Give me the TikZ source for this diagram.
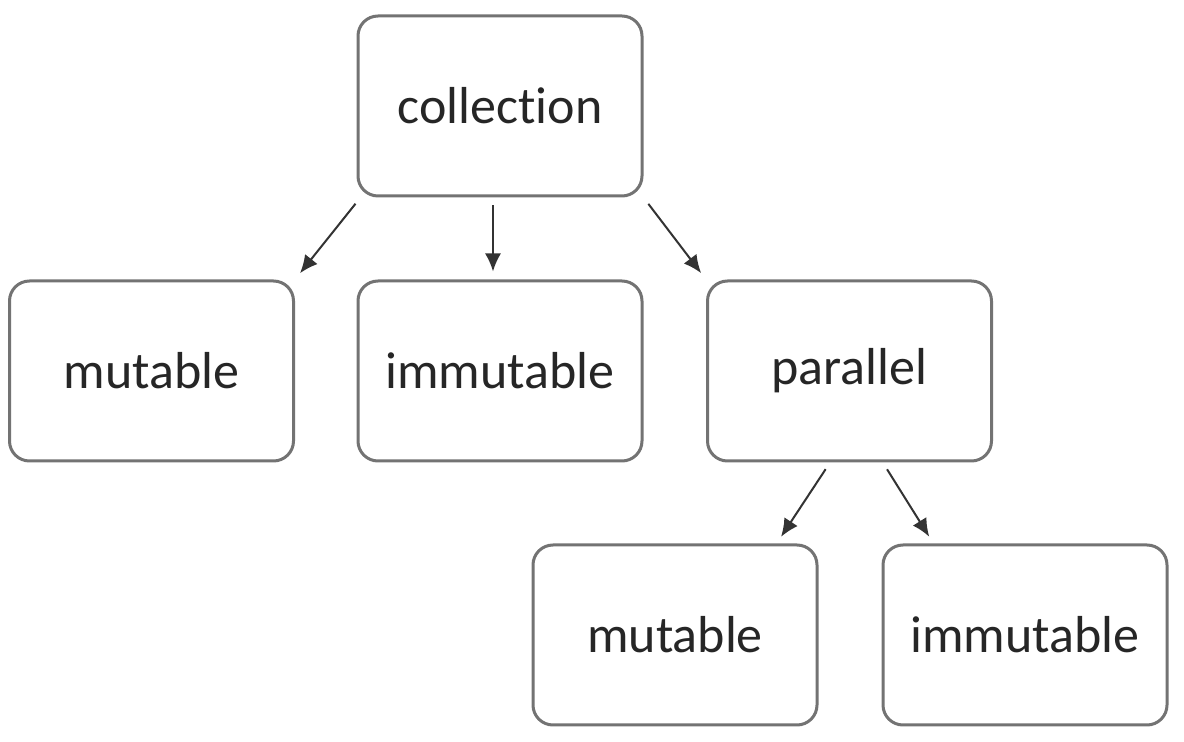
\documentclass[tikz,border=0pt]{standalone}
\usepackage{fontspec}
\setmainfont{Carlito}[Ligatures=NoCommon]
\usetikzlibrary{arrows.meta}

\begin{document}
\begin{tikzpicture}[x=0.5pt,y=-0.5pt,
  box/.style={draw=black!55, line width=1.5pt, rounded corners=10pt, fill=white,
    minimum width=142pt, minimum height=90pt, text=black!85,
    font=\fontsize{26}{30}\selectfont},
  link/.style={-{Latex[length=9pt,width=8pt]}, line width=1pt, draw=black!80,
    shorten <=4pt, shorten >=4pt}]

\useasboundingbox (0,0) rectangle (1184,742);

% Top level
\node[box] (coll) at (500,106) {collection};

% Second row
\node[box] (mut) at (151.5,371) {mutable};
\node[box] (immut) at (500,371) {immutable};
\node[box] (par) at (849.5,371) {parallel};

% Third row
\node[box] (parmut) at (675,635) {mutable};
\node[box] (parimmut) at (1025,635) {immutable};

% Arrows
\draw[link] ([xshift=2pt]coll.south west) -- (mut.north east);
\draw[link] ([xshift=-3.5pt]coll.south) -- ([xshift=-3.5pt]immut.north);
\draw[link] (coll.south east) -- (par.north west);

\draw[link] (par.258) -- (parmut.42);
\draw[link] (par.290) -- (parimmut.135);

\end{tikzpicture}
\end{document}
